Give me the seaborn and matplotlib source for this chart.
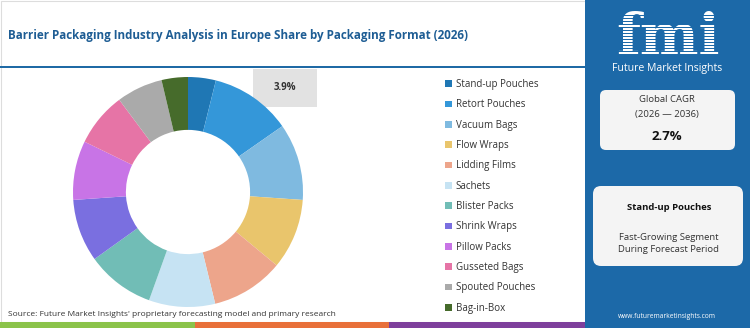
import matplotlib
matplotlib.use("Agg")
import matplotlib.pyplot as plt
import seaborn as sns
from matplotlib.patches import Rectangle, FancyBboxPatch, Patch

sns.set_theme(style="white")
plt.rcParams['font.family'] = ['Open Sans', 'DejaVu Sans']

# ---- data ----
categories = ["Stand-up Pouches", "Retort Pouches", "Vacuum Bags", "Flow Wraps",
              "Lidding Films", "Sachets", "Blister Packs", "Shrink Wraps",
              "Pillow Packs", "Gusseted Bags", "Spouted Pouches", "Bag-in-Box"]
shares = [3.9, 11.4, 10.8, 9.9, 10.2, 9.3, 9.6, 8.8, 8.3, 7.6, 6.5, 3.7]
colors = ["#1f77b4", "#3497d9", "#7fbae0", "#e9c56c", "#eda58b", "#c6e3f3",
          "#71bdb6", "#7a6fe0", "#c874e6", "#e674a6", "#aaaaaa", "#466b2b"]
highlight_label = "3.9%"
title = "Barrier Packaging Industry Analysis in Europe Share by Packaging Format (2026)"
source = "Source: Future Market Insights' proprietary forecasting model and primary research"
cagr_title = ["Global CAGR", "(2026 \u2014 2036)"]
cagr_value = "2.7%"
segment_name = "Stand-up Pouches"
segment_desc = ["Fast-Growing Segment", "During Forecast Period"]
website = "www.futuremarketinsights.com"

W, H = 750, 328
fig = plt.figure(figsize=(7.5, 3.28), dpi=100)
fig.patch.set_facecolor("white")

def fx(px):
    return px / W

def fy(py):
    return 1 - py / H

bg = fig.add_axes([0, 0, 1, 1])
bg.set_xlim(0, W)
bg.set_ylim(H, 0)
bg.axis("off")

panel_blue = "#1c69a8"
# left panel border
bg.add_patch(Rectangle((0.5, 0.5), 585, 321, fill=False, ec="#dddddd", lw=0.8))
# right panel
bg.add_patch(Rectangle((585, 0), 165, H, color=panel_blue, lw=0))
# bottom stripe
bg.add_patch(Rectangle((0, 322), 195, 6, color="#8bc34a", lw=0))
bg.add_patch(Rectangle((195, 322), 194, 6, color="#e8703a", lw=0))
bg.add_patch(Rectangle((389, 322), 196, 6, color="#7e3f9c", lw=0))
# title line
bg.add_patch(Rectangle((0, 66), 585, 2.2, color="#1f6aa5", lw=0))

bg.text(8, 35, title, fontsize=8.4, fontweight="bold", color="#1e5d94",
        va="center", ha="left")
bg.text(8, 314, source, fontsize=6.0, color="#333333", va="center", ha="left")

# ---- donut ----
cx, cy, r = 188, 192, 115
half = 120
ax = fig.add_axes([fx(cx - half), fy(cy + half), half * 2 / W, half * 2 / H])
pal = sns.color_palette(colors)
ax.pie(shares, colors=pal, startangle=90, counterclock=False, radius=1,
       wedgeprops=dict(width=0.46, linewidth=0))
lim = half / r
ax.set_xlim(-lim, lim)
ax.set_ylim(-lim, lim)
ax.set_aspect("equal")
ax.axis("off")

# highlight label box
bg.add_patch(Rectangle((253, 69), 64, 38, color="#e2e2e2", lw=0))
bg.text(285, 88, highlight_label, fontsize=7, fontweight="bold", color="#333333",
        ha="center", va="center")

# ---- legend ----
handles = [Patch(facecolor=c, edgecolor="none") for c in colors]
fig.legend(handles, categories, loc="upper left",
           bbox_to_anchor=(fx(445), fy(79)), frameon=False, fontsize=7,
           handlelength=0.7, handleheight=0.7, handletextpad=0.4,
           labelspacing=0.96, borderaxespad=0, borderpad=0,
           labelcolor="#333333")

# ---- right panel ----
# logo
bg.text(668, 54, "fmi", fontsize=40, fontweight="bold", color="white",
        family="DejaVu Serif", ha="center", va="baseline")
for yy in range(15, 56, 3):
    bg.add_patch(Rectangle((600, yy), 135, 1.0, color=panel_blue, lw=0, zorder=5))
bg.text(667, 69, "Future Market Insights", fontsize=7.6, color="white",
        ha="center", va="center")

box1 = FancyBboxPatch((603, 93), 129, 54, boxstyle="round,pad=3,rounding_size=6",
                      fc="#f4f4f4", ec="none")
bg.add_patch(box1)
bg.text(667, 100, cagr_title[0], fontsize=6.8, color="#333333", ha="center", va="center")
bg.text(667, 114, cagr_title[1], fontsize=6.8, color="#333333", ha="center", va="center")
bg.text(667, 137, cagr_value, fontsize=9.5, fontweight="bold", color="#111111",
        ha="center", va="center")

box2 = FancyBboxPatch((596, 189), 144, 74, boxstyle="round,pad=3,rounding_size=8",
                      fc="#f4f4f4", ec="none")
bg.add_patch(box2)
bg.text(669, 208, segment_name, fontsize=6.8, fontweight="bold", color="#111111",
        ha="center", va="center")
bg.text(669, 237, segment_desc[0], fontsize=6.8, color="#333333", ha="center", va="center")
bg.text(669, 250, segment_desc[1], fontsize=6.8, color="#333333", ha="center", va="center")

bg.text(667, 317, website, fontsize=4.8, color="white", ha="center", va="center")

fig.savefig("out.png", dpi=100, facecolor="white")
